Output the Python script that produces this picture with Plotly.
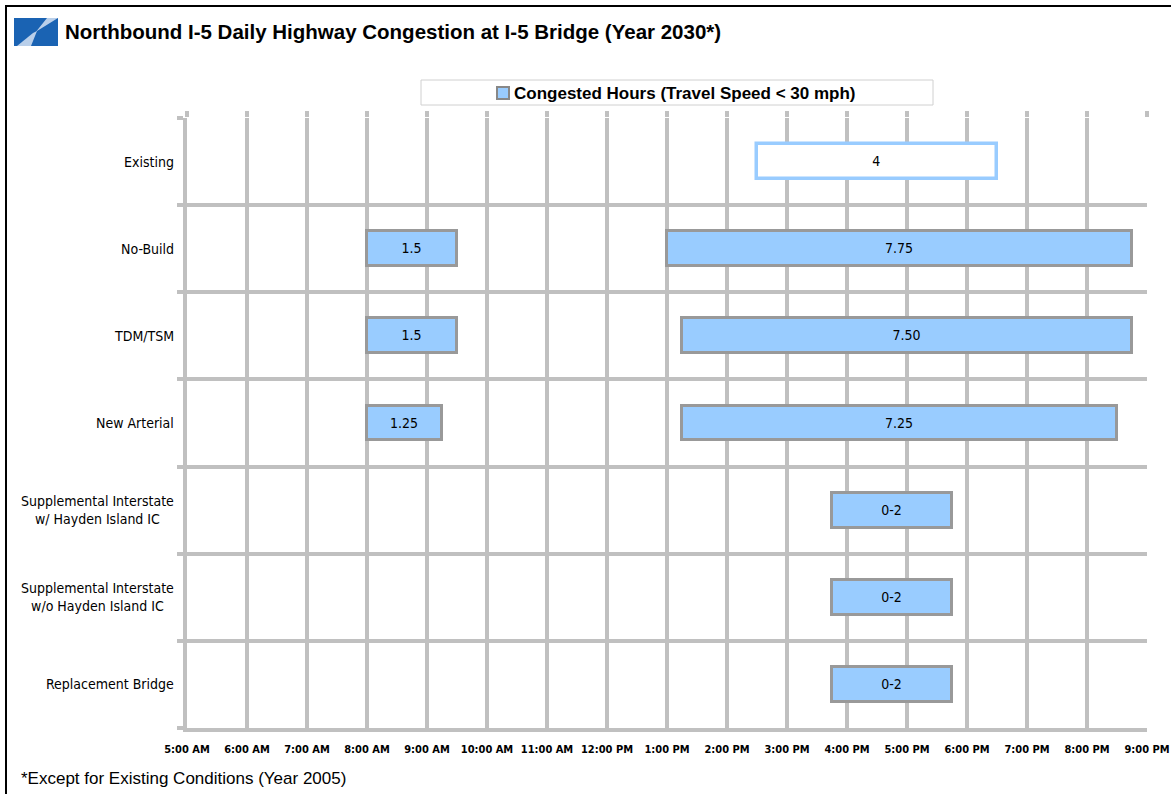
import plotly.graph_objects as go

# ---------------- data ----------------
categories = [
    "Existing",
    "No-Build",
    "TDM/TSM",
    "New Arterial",
    "Supplemental Interstate<br>w/ Hayden Island IC",
    "Supplemental Interstate<br>w/o Hayden Island IC",
    "Replacement Bridge",
]

# existing (2005) congested period
existing_start = [14.5]
existing_hours = [4.0]
existing_text = ["4"]

# 2030 alternatives: row index, start hour, duration (hours), label
seg_row = [1, 1, 2, 2, 3, 3, 4, 5, 6]
seg_start = [8.0, 13.0, 8.0, 13.25, 8.0, 13.25, 15.75, 15.75, 15.75]
seg_hours = [1.5, 7.75, 1.5, 7.5, 1.25, 7.25, 2.0, 2.0, 2.0]
seg_text = ["1.5", "7.75", "1.5", "7.50", "1.25", "7.25", "0-2", "0-2", "0-2"]

hour_ticks = list(range(5, 22))
hour_labels = ["5:00 AM", "6:00 AM", "7:00 AM", "8:00 AM", "9:00 AM", "10:00 AM",
               "11:00 AM", "12:00 PM", "1:00 PM", "2:00 PM", "3:00 PM", "4:00 PM",
               "5:00 PM", "6:00 PM", "7:00 PM", "8:00 PM", "9:00 PM"]

title_text = "Northbound I-5 Daily Highway Congestion at I-5 Bridge (Year 2030*)"
legend_text = "Congested Hours (Travel Speed < 30 mph)"
footnote_text = "*Except for Existing Conditions (Year 2005)"

# ---------------- layout geometry ----------------
W, H = 1171, 794
L, R, T, B = 187, 24, 118, 66
PW, PH = W - L - R, H - T - B


def px(x):
    return (x - L) / PW


def py(y):
    return (H - B - y) / PH


NARROW = "Liberation Sans Narrow, Arial Narrow, DejaVu Sans Condensed, sans-serif"
ARIAL = "Liberation Sans, Arial, sans-serif"
GRID = "#c0c0c0"
FILL = "#99ccff"
EDGE = "#999999"

fig = go.Figure()

fig.add_trace(go.Bar(
    orientation="h",
    y=[0.5],
    x=existing_hours,
    base=existing_start,
    width=0.4,
    text=existing_text,
    textposition="inside",
    insidetextanchor="middle",
    textfont=dict(family=NARROW, size=14, color="black"),
    marker=dict(color="white", line=dict(color=FILL, width=3.5)),
    showlegend=False,
    hoverinfo="skip",
))

fig.add_trace(go.Bar(
    orientation="h",
    y=[r + 0.5 for r in seg_row],
    x=seg_hours,
    base=seg_start,
    width=0.4,
    text=seg_text,
    textposition="inside",
    insidetextanchor="middle",
    textfont=dict(family=NARROW, size=14, color="black"),
    marker=dict(color=FILL, line=dict(color=EDGE, width=3)),
    showlegend=False,
    hoverinfo="skip",
))

# invisible trace to anchor the top axis (tick stubs)
fig.add_trace(go.Scatter(x=[5, 21], y=[0, 0], xaxis="x2", mode="markers",
                         marker=dict(opacity=0), showlegend=False, hoverinfo="skip"))

fig.update_layout(
    width=W, height=H,
    autosize=False,
    showlegend=False,
    margin=dict(l=L, r=R, t=T, b=B, pad=0, autoexpand=False),
    paper_bgcolor="white", plot_bgcolor="white",
    barmode="overlay",
    bargap=0,
    xaxis=dict(
        range=[5, 21], tickmode="array", tickvals=hour_ticks, ticktext=hour_labels,
        showgrid=True, gridcolor=GRID, gridwidth=4,
        showline=True, linecolor=GRID, linewidth=4,
        ticks="", zeroline=False, automargin=False,
        tickfont=dict(family=NARROW, size=11, color="black", weight="bold"),
        ticklabelstandoff=8,
        fixedrange=True,
    ),
    xaxis2=dict(
        range=[5, 21], overlaying="x", side="top", tickmode="array", tickvals=hour_ticks,
        showticklabels=False, showgrid=False, ticks="outside", ticklen=6,
        tickwidth=4, tickcolor=GRID, showline=False, zeroline=False, automargin=False,
        fixedrange=True,
    ),
    yaxis=dict(
        range=[7, 0], tickmode="array", tickvals=list(range(0, 8)),
        showticklabels=False, showgrid=True, gridcolor=GRID, gridwidth=4,
        showline=True, linecolor=GRID, linewidth=4, automargin=False,
        ticks="outside", ticklen=6, tickwidth=4, tickcolor=GRID, zeroline=False,
        fixedrange=True,
    ),
    title=dict(
        text="<b>" + title_text + "</b>",
        x=65 / W, xanchor="left", y=1 - 32 / H, yanchor="middle",
        font=dict(family=ARIAL, size=20.5, color="black"),
    ),
)

# category labels (centered multi-line, right anchored)
for i, c in enumerate(categories):
    fig.add_annotation(
        xref="paper", yref="y", x=px(176), y=i + 0.5, text=c,
        showarrow=False, xanchor="right", yanchor="middle", align="center",
        font=dict(family=NARROW, size=14, color="black"),
    )

# outer frame
fig.add_shape(type="rect", xref="paper", yref="paper",
              x0=px(6), x1=px(W + 20), y0=py(H + 20), y1=py(6),
              line=dict(color="black", width=2), fillcolor="rgba(0,0,0,0)", layer="above")

# logo
fig.add_shape(type="rect", xref="paper", yref="paper",
              x0=px(14), x1=px(58), y0=py(46), y1=py(18),
              line=dict(width=0), fillcolor="#1a63b3", layer="above")


def path(pts):
    return "M " + " L ".join(f"{px(a)},{py(b)}" for a, b in pts) + " Z"


fig.add_shape(type="path", xref="paper", yref="paper",
              path=path([(17, 46), (31, 46), (37, 31), (33, 33)]),
              line=dict(width=0), fillcolor="#b9cfea", layer="above")
fig.add_shape(type="path", xref="paper", yref="paper",
              path=path([(37, 31), (58, 18), (47, 18), (35, 33)]),
              line=dict(width=0), fillcolor="#b9cfea", layer="above")

# legend box
fig.add_shape(type="rect", xref="paper", yref="paper",
              x0=px(421), x1=px(933), y0=py(105), y1=py(80),
              line=dict(color="#d0d0d0", width=1), fillcolor="white", layer="above")
fig.add_shape(type="rect", xref="paper", yref="paper",
              x0=px(497), x1=px(509), y0=py(99), y1=py(87),
              line=dict(color="#888888", width=2), fillcolor=FILL, layer="above")
fig.add_annotation(xref="paper", yref="paper", x=px(512), y=py(93), text="<b>" + legend_text + "</b>",
                   showarrow=False, xanchor="left", yanchor="middle",
                   font=dict(family=ARIAL, size=17, color="black"))

# footnote
fig.add_annotation(xref="paper", yref="paper", x=px(19), y=py(778), text=footnote_text,
                   showarrow=False, xanchor="left", yanchor="middle",
                   font=dict(family=ARIAL, size=17, color="black"))

fig.write_html("out.html",
               config={"displayModeBar": False, "responsive": False},
               post_script="document.body.style.margin='0';document.body.style.overflow='hidden';")
